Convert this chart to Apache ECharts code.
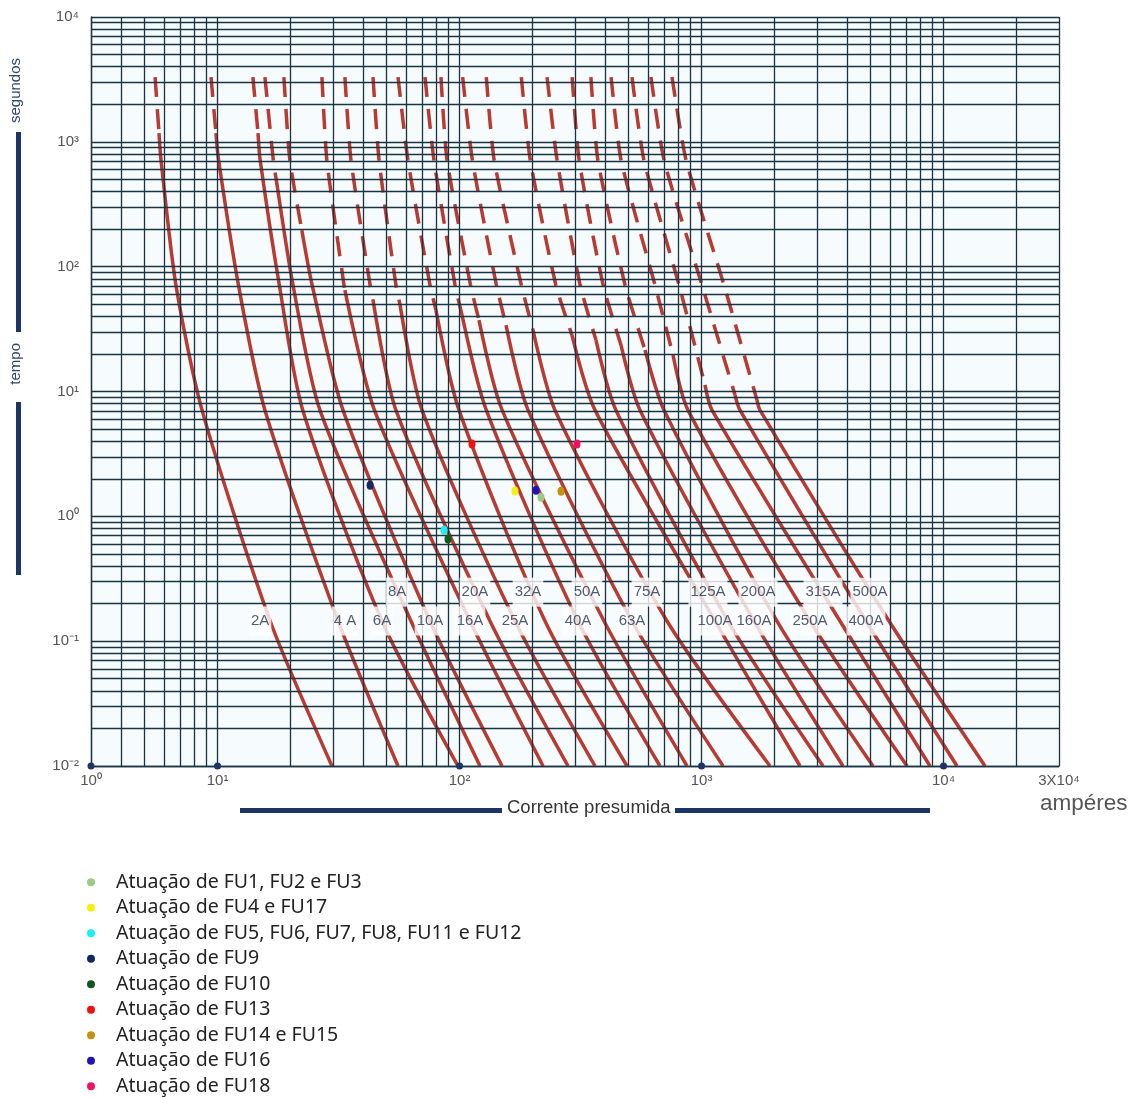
<!DOCTYPE html>
<html><head><meta charset="utf-8">
<script src="https://cdn.jsdelivr.net/npm/echarts@6/dist/echarts.min.js"></script>
<style>html,body{margin:0;padding:0;background:#fff}#c{width:1134px;height:1097px}</style>
</head><body><div id="c"></div>
<script>
// time levels (s) at which each curve's current (A) was read
const timeLevels = [3300, 714, 71.3, 7.09, 0.145, 0.01];
const fuseNames = ['2A','4A','6A','8A','10A','16A','20A','25A','32A','40A','50A','63A','75A','100A','125A','160A','200A','250A','315A','400A','500A'];
const labelText = ['2A','4 A','6A','8A','10A','16A','20A','25A','32A','40A','50A','63A','75A','100A','125A','160A','200A','250A','315A','400A','500A'];
const cur2A   = [5.52, 5.84, 6.73, 8.63, 16.5, 29.7];
const cur4A   = [9.40, 10.1, 12.2, 15.7, 31.5, 55.7];
const cur6A   = [14.0, 15.0, 18.0, 22.5, 47.8, 98.5];
const cur8A   = [15.7, 17.0, 20.5, 26.5, 63.0, 121.5];
const cur10A  = [18.8, 19.9, 24.6, 33.0, 75.5, 149.8];
const cur16A  = [27.0, 28.3, 33.3, 44.5, 110.5, 221.3];
const cur20A  = [33.6, 35.6, 42.7, 54.6, 133.6, 280.7];
const cur25A  = [43.9, 46.5, 54.6, 70.0, 169.5, 362.8];
const cur32A  = [55.7, 61.2, 75.5, 99.5, 225.5, 492.0];
const cur40A  = [72.0, 78.4, 95.8, 129, 308.7, 673.4];
const cur50A  = [83.8, 88.8, 111, 150, 395.3, 870.8];
const cur63A  = [103, 113, 142, 192, 515.9, 1227];
const cur75A  = [129, 139, 180, 248, 720.0, 1918];
const cur100A = [180, 196, 250, 363, 1137, 2552];
const cur125A = [230, 253, 315, 443, 1286, 3177];
const cur160A = [292, 312, 392, 557, 1647, 3841];
const cur200A = [349, 373, 483, 700, 2050, 5110];
const cur250A = [423, 465, 642, 879, 2807, 7063];
const cur315A = [516, 578, 807, 1105, 3733, 8790];
const cur400A = [618, 700, 1004, 1442, 4781, 11365];
const cur500A = [755, 863, 1238, 1744, 5951, 14837];
// point where each curve turns from dashed (above) to solid (below)
const dashEndTime    = [1176, 1176, 1176, 427, 196, 64.9, 54.0, 49.2, 44.9, 40.9, 37.3, 34.0, 31.0, 28.3, 25.8, 23.5, 21.5, 19.6, 11.3, 9.36, 8.53];
const dashEndCurrent = [5.73, 9.85, 14.7, 17.7, 22.3, 33.6, 43.9, 56.8, 79.9, 102.4, 120.3, 155.6, 201.2, 291.5, 366.3, 464.8, 584.0, 762.4, 1033, 1375, 1695];
// label anchors
const labelCurrent = [15.0, 33.6, 47.8, 55.2, 75.5, 110.5, 115.8, 169.5, 191.8, 308.7, 336.2, 515.9, 595.2, 1137, 1063, 1647, 1711, 2807, 3177, 4781, 4966];
const labelTime    = [0.145, 0.145, 0.145, 0.247, 0.145, 0.145, 0.247, 0.145, 0.247, 0.145, 0.247, 0.145, 0.247, 0.145, 0.247, 0.145, 0.247, 0.145, 0.247, 0.145, 0.247];
// grid line values
const xGrid = [3,4,5,6,7,8,9,10,20,30,40,50,60,70,80,90,100,200,300,400,500,600,700,800,900,1000,2000,3000,4000,5000,6000,7000,8000,9000,10000,20000,30000];
const yGrid = [0.01,0.02,0.03,0.04,0.05,0.06,0.07,0.08,0.09,0.1,0.2,0.3,0.4,0.5,0.6,0.7,0.8,0.9,1,2,3,4,5,6,7,8,9,10,20,30,40,50,60,70,80,90,100,200,300,400,500,600,700,800,900,1000,2000,3000,4000,5000,6000,7000,8000,9000,10000];
// operating points
const pointNames = ['Atuação de FU1, FU2 e FU3','Atuação de FU4 e FU17','Atuação de FU5, FU6, FU7, FU8, FU11 e FU12','Atuação de FU9','Atuação de FU10','Atuação de FU13','Atuação de FU14 e FU15','Atuação de FU16','Atuação de FU18'];
const pointColors = ['#9dca84','#f4f20c','#19f0f5','#102a66','#0d5a1c','#f20f0f','#c4920f','#2312b8','#f0135f'];
const pointCurrent = [217, 169.5, 86.3, 42.7, 89.6, 112.6, 262.6, 207, 305.8];
const pointTime    = [1.425, 1.592, 0.775, 1.778, 0.657, 3.79, 1.59, 1.62, 3.79];
const axisDots = [3, 10, 100, 1000, 10000];

const curves = [cur2A,cur4A,cur6A,cur8A,cur10A,cur16A,cur20A,cur25A,cur32A,cur40A,cur50A,cur63A,cur75A,cur100A,cur125A,cur160A,cur200A,cur250A,cur315A,cur400A,cur500A];
const RED = '#b83a31';
const GRID = '#1a3444';
const NAVY = '#1b3566';
const SUP = {'-':'⁻','0':'⁰','1':'¹','2':'²','3':'³','4':'⁴'};
const sup = s => String(s).split('').map(ch => SUP[ch]).join('');
const NARROW = '"Liberation Sans Narrow","Liberation Sans",Arial';

const series = [];
series.push({
  type:'line', name:'grid', data:[[3,0.01]], symbol:'none', lineStyle:{opacity:0}, z:1, silent:true,
  markLine:{silent:true, symbol:['none','none'], label:{show:false}, animation:false,
    lineStyle:{color:GRID, width:1.3, type:'solid'}, emphasis:{disabled:true},
    data: xGrid.map(v => ({xAxis:v})).concat(yGrid.map(v => ({yAxis:v})))}
});
curves.forEach((c, i) => {
  const split = [dashEndCurrent[i], dashEndTime[i]];
  const upper = [], lower = [];
  c.forEach((I, k) => {
    const t = timeLevels[k];
    if (t > dashEndTime[i]) upper.push([I, t]); else if (t < dashEndTime[i]) lower.push([I, t]);
  });
  upper.push(split);
  lower.unshift(split);
  series.push({type:'line', name:fuseNames[i]+' tracejado', data:upper, symbol:'none', z:3, silent:true,
    smooth:0.2,
    lineStyle:{color:RED, width:3.5, type:[20,12], cap:'butt'}});
  series.push({type:'line', name:fuseNames[i], data:lower, symbol:'none', z:4, silent:true,
    smooth:0.25,
    lineStyle:{color:RED, width:3.5, type:'solid'}});
});
series.push({
  type:'scatter', name:'rotulos', silent:true, z:10, symbolSize:0,
  data: labelText.map((t, i) => [labelCurrent[i], labelTime[i], t]),
  label:{show:true, position:'inside', formatter:p => p.value[2], color:'#22324d',
    fontFamily:NARROW, fontSize:15, backgroundColor:'#ffffff', padding:[7,2]}
});
pointNames.forEach((n, i) => {
  series.push({type:'scatter', name:n, z:12, symbol:'circle', symbolSize:[7,9],
    itemStyle:{color:pointColors[i], opacity:1}, data:[[pointCurrent[i], pointTime[i]]]});
});
series.push({type:'scatter', name:'eixo', z:13, symbolSize:7, silent:true, itemStyle:{color:NAVY, opacity:1},
  data: axisDots.map(v => [v, 0.01])});

const option = {
  animation:false,
  backgroundColor:'#ffffff',
  grid:{left:91, right:75, top:17, bottom:331, show:true, backgroundColor:'#f6fbfd', borderWidth:0},
  xAxis:{type:'log', min:3, max:30000, logBase:10,
    axisLine:{show:true, lineStyle:{color:GRID, width:1.3}}, axisTick:{show:false}, splitLine:{show:false},
    axisLabel:{show:true, showMinLabel:true, showMaxLabel:true, margin:7, color:'#555', fontSize:15, fontFamily:NARROW,
      formatter: v => { if (v < 5) return '10⁰'; if (v > 20000) return '3X10⁴'; return '10' + sup(Math.round(Math.log10(v))); }}},
  yAxis:{type:'log', min:0.01, max:10000, logBase:10,
    axisLine:{show:true, lineStyle:{color:GRID, width:1.3}}, axisTick:{show:false}, splitLine:{show:false},
    axisLabel:{show:true, margin:12, color:'#555', fontSize:15, fontFamily:NARROW,
      formatter: v => '10' + sup(Math.round(Math.log10(v)))}},
  legend:{show:true, orient:'vertical', left:87, top:872, height:240, padding:0, selectedMode:false, icon:'circle',
    itemWidth:40, itemHeight:8, itemGap:5,
    data: pointNames,
    textStyle:{fontFamily:'"Noto Sans",Arial', fontSize:19.5, color:'#222', lineHeight:20.5}},
  graphic:[
    {type:'text', left:8, top:58, rotation:Math.PI/2, style:{text:'segundos', fill:'#2d4868', font:'15px ' + NARROW}},
    {type:'rect', shape:{x:16, y:132, width:5, height:200}, style:{fill:NAVY}},
    {type:'text', left:8, top:343, rotation:Math.PI/2, style:{text:'tempo', fill:'#2d4868', font:'15px ' + NARROW}},
    {type:'rect', shape:{x:16, y:402, width:5, height:173}, style:{fill:NAVY}},
    {type:'rect', shape:{x:240, y:808, width:262, height:5}, style:{fill:NAVY}},
    {type:'text', left:507, top:798, style:{text:'Corrente presumida', fill:'#333', font:'18.5px ' + NARROW}},
    {type:'rect', shape:{x:675, y:808, width:255, height:5}, style:{fill:NAVY}},
    {type:'text', left:1040, top:792, style:{text:'ampéres', fill:'#555', font:'22.5px "Liberation Sans",Arial'}}
  ],
  series: series
};
const chart = echarts.init(document.getElementById('c'));
chart.setOption(option);
</script></body></html>
